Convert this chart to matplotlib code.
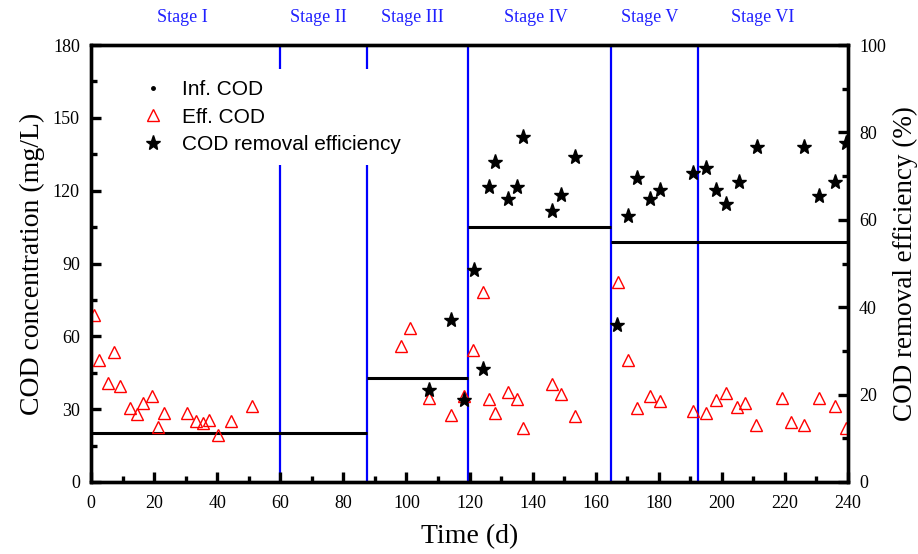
import numpy as np
import matplotlib
matplotlib.use('Agg')
import matplotlib.pyplot as plt
from matplotlib.lines import Line2D
from matplotlib.ticker import MultipleLocator
import matplotlib.transforms as mtransforms

# effluent COD (mg/L)
eff_day = [1, 2.4, 5.3, 7.4, 9.3, 12.3, 14.5, 16.4, 19.2, 21.3, 23.2, 30.3, 33.2, 35.4, 37.5,
           40.3, 44.3, 51.2,
           98.4, 101.1, 107.1, 114, 118.2,
           121.1, 124.3, 126.1, 128.2, 132.1, 135.1, 137, 146.2, 149.1, 153.3,
           167, 170.3, 173.1, 177.1, 180.3, 191,
           195.1, 198.2, 201.3, 204.8, 207.2, 210.9, 219, 222, 226.1, 230.9, 236, 239.4]
eff_cod = [68.8, 50.2, 40.7, 53.7, 39.5, 30.4, 28.0, 32.4, 35.4, 22.5, 28.3, 28.3, 25.2, 24.2, 25.5,
           19.4, 25.2, 31.3,
           56.1, 63.3, 34.5, 27.6, 35.5,
           54.4, 78.4, 34.2, 28.3, 37.2, 34.2, 22.4, 40.4, 36.2, 27.3,
           82.5, 50.2, 30.4, 35.4, 33.5, 29.4,
           28.3, 33.8, 36.5, 31.0, 32.7, 23.5, 34.5, 24.6, 23.5, 34.5, 31.3, 22.1]

# COD removal efficiency (%)
rem_day = [107.1, 114.2, 118.4,
           121.4, 124.3, 126.1, 128.2, 132.1, 135.1, 137, 146.2, 149.1, 153.3,
           166.8, 170.3, 173.1, 177.1, 180.3, 191,
           195.1, 198.2, 201.3, 205.3, 211.1, 226.1, 230.9, 236, 239.4]
rem_eff = [21.1, 37.1, 18.8,
           48.5, 25.8, 67.6, 73.3, 64.7, 67.6, 79.0, 61.9, 65.7, 74.3,
           35.9, 60.9, 69.6, 64.8, 66.8, 70.8,
           71.8, 66.8, 63.6, 68.7, 76.7, 76.7, 65.5, 68.7, 77.6]

# influent COD, one level per period
inf_start = [0, 87.5, 119.5, 165]
inf_end = [87.5, 119.5, 165, 240]
inf_cod = [20, 43, 105, 99]

# stage boundaries and names
stage_bounds = [60, 87.5, 119.5, 165, 192.5]
stage_names = ['Stage I', 'Stage II', 'Stage III', 'Stage IV', 'Stage V', 'Stage VI']
stage_label_x = [29, 72, 102, 141, 177, 213]

serif = 'Liberation Serif'
sans = 'Liberation Sans'

fig = plt.figure(figsize=(9.18, 5.54), dpi=100)
ax = fig.add_axes([91 / 918, 1 - 482 / 554, 757 / 918, 437 / 554])
ax2 = ax.twinx()

for xb in stage_bounds:
    ax.axvline(xb, color='#0000ff', lw=1.6, zorder=1)

ax.hlines(inf_cod, inf_start, inf_end, colors='black', lw=2.2, zorder=2)
ax.plot(eff_day, eff_cod, linestyle='none', marker='^', markersize=8,
        markerfacecolor='none', markeredgecolor='red', markeredgewidth=1.0, zorder=3)
ax2.plot(rem_day, rem_eff, linestyle='none', marker='*', markersize=11,
         color='black', zorder=3)

ax.set_xlim(0, 240)
ax.set_ylim(0, 180)
ax2.set_ylim(0, 100)

ax.xaxis.set_major_locator(MultipleLocator(20))
ax.xaxis.set_minor_locator(MultipleLocator(10))
ax.yaxis.set_major_locator(MultipleLocator(30))
ax.yaxis.set_minor_locator(MultipleLocator(15))
ax2.yaxis.set_major_locator(MultipleLocator(20))
ax2.yaxis.set_minor_locator(MultipleLocator(10))

for a in (ax, ax2):
    for sp in a.spines.values():
        sp.set_linewidth(2.4)
    a.tick_params(which='major', direction='in', length=7, width=2.4, labelsize=13, pad=8)
    a.tick_params(which='minor', direction='in', length=4, width=2.4)
ax.tick_params(axis='x', which='major', pad=9)
ax.tick_params(which='both', top=False, right=False)
for lab in ax.get_xticklabels() + ax.get_yticklabels() + ax2.get_yticklabels():
    lab.set_fontfamily(serif)

ax.set_xlabel('Time (d)', fontsize=20, family=serif, labelpad=9)
ax.set_ylabel('COD concentration (mg/L)', fontsize=20, family=serif, labelpad=6)
ax2.set_ylabel('COD removal efficiency (%)', fontsize=19.5, family=serif, labelpad=5)

trans = mtransforms.blended_transform_factory(ax.transData, ax.transAxes)
for name, sx in zip(stage_names, stage_label_x):
    ax.text(sx, 1.062, name, transform=trans, ha='center', va='center',
            color='#2020ff', fontsize=13, family=serif)

handles = [
    Line2D([], [], linestyle='none', marker='.', markersize=5, color='black'),
    Line2D([], [], linestyle='none', marker='^', markersize=8, markerfacecolor='none',
           markeredgecolor='red'),
    Line2D([], [], linestyle='none', marker='*', markersize=11, color='black'),
]
labels = ['Inf. COD', 'Eff. COD', 'COD removal efficiency']
leg = ax2.legend(handles, labels, loc='upper left', bbox_to_anchor=(0.037, 0.968),
                 prop={'family': sans, 'size': 15}, frameon=True, fancybox=False,
                 handlelength=1.3, handletextpad=0.7, labelspacing=0.42, borderpad=0.5)
leg.get_frame().set_edgecolor('none')
leg.get_frame().set_facecolor('white')
leg.get_frame().set_alpha(1)

fig.savefig('out.png', dpi=100)
